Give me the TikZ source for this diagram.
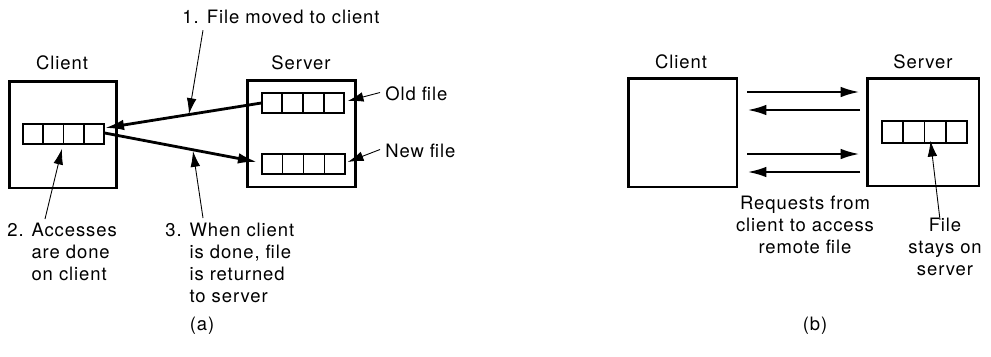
\documentclass[tikz,border=0pt]{standalone}
\usepackage{fontspec}
\setmainfont{TeX Gyre Heros}[LetterSpace=5]
\usetikzlibrary{arrows.meta,calc}
\tikzset{
  x=0.02cm,y=-0.02cm,
  every node/.style={font=\fontsize{10.5}{12.5}\selectfont},
  lbl/.style={inner sep=0pt},
  bigbox/.style={draw,line width=1.7pt,inner sep=0pt},
  strip/.style={draw,line width=0.8pt,inner sep=0pt,minimum width=1.62cm,minimum height=0.4cm},
  xfer/.style={line width=1.6pt,-{Latex[length=11pt,width=6pt]}},
  ptr/.style={line width=0.5pt,-{Latex[length=9pt,width=5.5pt]}},
}
\newcommand{\cells}[1]{\foreach \k in {1,2,3}{\draw[line width=0.8pt] ($(#1.north west)!\k/4!(#1.north east)$) -- ($(#1.south west)!\k/4!(#1.south east)$);}}
\begin{document}
\begin{tikzpicture}
\useasboundingbox (0,0) rectangle (991,356);
% ---------- (a) ----------
\node[lbl] (cliLabA) at (62,63) {Client};
\node[bigbox,minimum width=2.16cm,minimum height=2.14cm] (cliA) at (63,134.5) {};
\node[strip] (cliStrip) at (63.5,134) {};
\cells{cliStrip}
\node[lbl] (srvLabA) at (301,63) {Server};
\node[bigbox,minimum width=2.18cm,minimum height=2.14cm] (srvA) at (301.5,133.5) {};
\node[strip,minimum width=1.64cm] (oldStrip) at (303,103) {};
\cells{oldStrip}
\node[strip,minimum width=1.66cm] (newStrip) at (303.5,164) {};
\cells{newStrip}
\node[lbl,anchor=west] (oldLab) at (385,94) {Old file};
\node[lbl,anchor=west] (newLab) at (385,151) {New file};
\node[lbl] (step1) at (281,17) {1. File moved to client};
\node[lbl,anchor=north west] (step2) at (7,221) {\begin{tabular}{@{}l@{\hspace{4.5pt}}l@{}}2.&Accesses\\&are done\\&on client\end{tabular}};
\node[lbl,anchor=north west] (step3) at (165,221) {\begin{tabular}{@{}l@{\hspace{4.5pt}}l@{}}3.&When client\\&is done, file\\&is returned\\&to server\end{tabular}};
\node[lbl] (capA) at (202,326) {(a)};
\coordinate (p1) at (189,114);
\coordinate (p3) at (193,151);
\draw[xfer] (oldStrip.west) -- ([yshift=0.12cm]cliStrip.east);
\draw[xfer] ([yshift=0.02cm]cliStrip.east) -- ([xshift=-0.08cm,yshift=0.04cm]newStrip.west);
\draw[ptr] ([xshift=-1.56cm,yshift=-0.12cm]step1.south) -- (p1);
\draw[ptr] ([xshift=-0.1cm,yshift=0.03cm]oldLab.west) -- ([xshift=0.06cm,yshift=0.04cm]oldStrip.east);
\draw[ptr] ([xshift=-0.1cm,yshift=0.03cm]newLab.west) -- ([xshift=0.04cm,yshift=0.04cm]newStrip.east);
\draw[ptr] (45,219) -- ([xshift=-0.03cm,yshift=-0.08cm]cliStrip.south);
\draw[ptr] (203,218) -- (p3);
% ---------- (b) ----------
\node[lbl] (cliLabB) at (681,62) {Client};
\node[bigbox,minimum width=2.18cm,minimum height=2.18cm] (cliB) at (682.5,132.5) {};
\node[lbl] (srvLabB) at (923,62) {Server};
\node[bigbox,minimum width=2.24cm,minimum height=2.16cm] (srvB) at (923,132) {};
\node[strip,minimum width=1.7cm,minimum height=0.44cm] (fileB) at (924.5,132) {};
\cells{fileB}
\coordinate (r1s) at (747,92);  \coordinate (r1e) at (860,92);
\coordinate (r2s) at (860,110); \coordinate (r2e) at (747,110);
\coordinate (r3s) at (747,154); \coordinate (r3e) at (860,154);
\coordinate (r4s) at (860,172); \coordinate (r4e) at (747,172);
\draw[xfer] (r1s) -- (r1e);
\draw[xfer] (r2s) -- (r2e);
\draw[xfer] (r3s) -- (r3e);
\draw[xfer] (r4s) -- (r4e);
\node[lbl,align=center] (reqLab) at (805,225) {Requests from\\client to access\\remote file};
\node[lbl,align=center] (stayLab) at (945,247) {File\\stays on\\server};
\draw[ptr] ([xshift=-0.1cm,yshift=-0.04cm]stayLab.north) -- ([xshift=0.12cm,yshift=0.06cm]fileB.south);
\node[lbl] (capB) at (815,326) {(b)};
\end{tikzpicture}
\end{document}
